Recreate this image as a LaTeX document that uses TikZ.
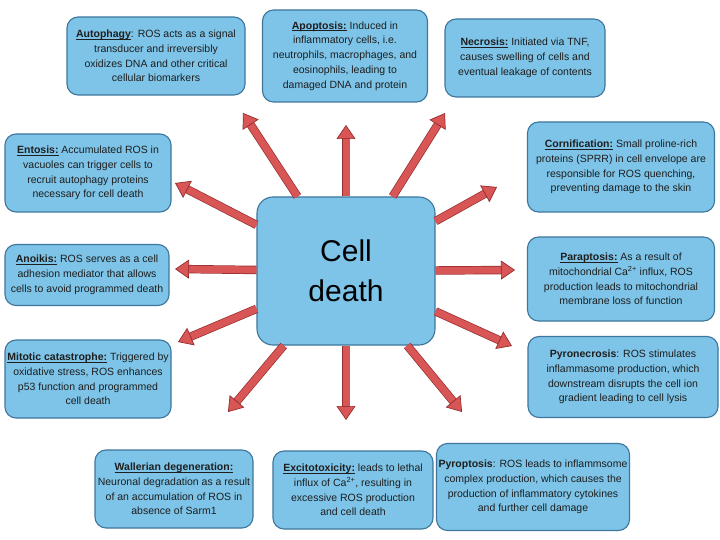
\documentclass[tikz,border=0pt]{standalone}
\usepackage{fontspec}
\setmainfont{Liberation Sans}
\usetikzlibrary{arrows.meta}
\definecolor{boxfill}{RGB}{125,196,232}
\definecolor{boxborder}{RGB}{62,118,156}
\definecolor{arrowred}{RGB}{217,86,86}
\definecolor{arrowdark}{RGB}{150,45,45}
\definecolor{textcol}{RGB}{30,30,30}
\newcommand{\hd}[1]{\setbox0\hbox{\textbf{#1}}\rlap{\vrule width\wd0 height -1.1pt depth 1.8pt}\box0\relax}
\tikzset{
  box/.style={draw=boxborder, line width=1.1pt, fill=boxfill, rounded corners=11pt,
    align=center, text=textcol, font=\fontsize{10.5}{14.8}\selectfont, inner sep=2pt},
  redarr/.style={line width=7pt, arrowred,
    -{Triangle[width=19pt,length=14pt,fill=arrowred,color=arrowdark,line width=0.7pt]},
    preaction={draw=arrowdark, line width=8.4pt, shorten >=13pt, -}}
}
\begin{document}
\begin{tikzpicture}[x=1pt,y=-1pt]
\useasboundingbox (0,0) rectangle (720,540);
\fill[white] (0,0) rectangle (720,540);

\node[box, minimum width=178pt, minimum height=78pt] (autophagy) at (156,56)
  {\hd{Autophagy}: ROS acts as a signal\\transducer and irreversibly\\oxidizes DNA and other critical\\cellular biomarkers};
\node[box, minimum width=165pt, minimum height=92pt] (apoptosis) at (345,56)
  {\hd{Apoptosis:} Induced in\\inflammatory cells, i.e.\\neutrophils, macrophages, and\\eosinophils, leading to\\damaged DNA and protein};
\node[box, minimum width=160pt, minimum height=78pt] (necrosis) at (525,58)
  {\hd{Necrosis:} Initiated via TNF,\\causes swelling of cells and\\eventual leakage of contents};
\node[box, minimum width=166pt, minimum height=78pt] (entosis) at (88,173)
  {\hd{Entosis:} Accumulated ROS in\\vacuoles can trigger cells to\\recruit autophagy proteins\\necessary for cell death};
\node[box, minimum width=187pt, minimum height=90pt] (cornification) at (621,167)
  {\hd{Cornification:} Small proline-rich\\proteins (SPRR) in cell envelope are\\responsible for ROS quenching,\\preventing damage to the skin};
\node[box, minimum width=164pt, minimum height=61pt] (anoikis) at (87,275)
  {\hd{Anoikis:} ROS serves as a cell\\adhesion mediator that allows\\cells to avoid programmed death};
\node[box, minimum width=187pt, minimum height=84pt] (paraptosis) at (621,279)
  {\hd{Paraptosis:} As a result of\\mitochondrial Ca\textsuperscript{2+} influx, ROS\\production leads to mitochondrial\\membrane loss of function};
\node[box, minimum width=166pt, minimum height=78pt] (mitotic) at (88,379)
  {\hd{Mitotic catastrophe:} Triggered by\\oxidative stress, ROS enhances\\p53 function and programmed\\cell death};
\node[box, minimum width=190pt, minimum height=81pt] (pyronecrosis) at (623,377)
  {\textbf{Pyronecrosis}: ROS stimulates\\inflammasome production, which\\downstream disrupts the cell ion\\gradient leading to cell lysis};
\node[box, minimum width=158pt, minimum height=78pt] (wallerian) at (174,489)
  {\hd{Wallerian degeneration:}\\Neuronal degradation as a result\\of an accumulation of ROS in\\absence of Sarm1};
\node[box, minimum width=160pt, minimum height=78pt] (excito) at (353,490)
  {\hd{Excitotoxicity:} leads to lethal\\influx of Ca\textsuperscript{2+}, resulting in\\excessive ROS production\\and cell death};
\node[box, minimum width=193pt, minimum height=87pt] (pyroptosis) at (533,487)
  {\textbf{Pyroptosis}: ROS leads to inflammsome\\complex production, which causes the\\production of inflammatory cytokines\\and further cell damage};

\node[box, minimum width=178pt, minimum height=148pt, rounded corners=16pt,
  text=black, font=\fontsize{30}{40}\selectfont] (cd) at (346,271) {Cell\\death};

\coordinate (h1) at (346,125);
\coordinate (h2) at (243,113);
\coordinate (h3) at (445,113);
\coordinate (h4) at (175,183);
\coordinate (h5) at (497,187);
\coordinate (h6) at (175,269);
\coordinate (h7) at (515,270);
\coordinate (h8) at (178,342);
\coordinate (h9) at (512,346);
\coordinate (h10) at (228,412);
\coordinate (h11) at (346,420);
\coordinate (h12) at (462,412);
\foreach \i in {1,...,12} {\draw[redarr] (cd) -- (h\i);}
\end{tikzpicture}
\end{document}
